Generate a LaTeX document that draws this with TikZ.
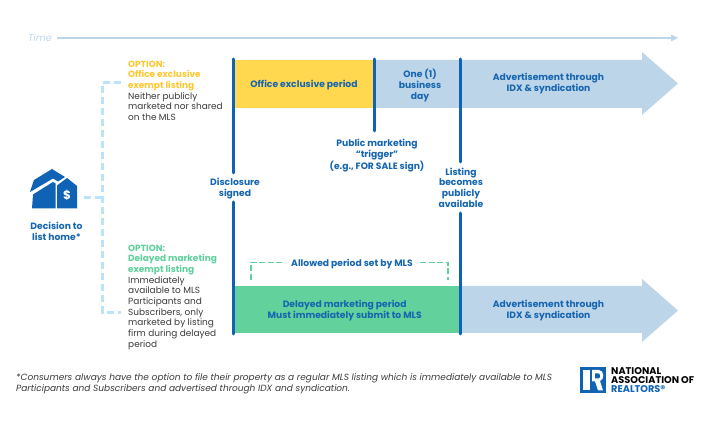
\documentclass[tikz,border=0pt]{standalone}
\usepackage{fontspec}
\setmainfont{Poppins}
\definecolor{navy}{HTML}{1565B0}
\definecolor{barblue}{HTML}{0F62B4}
\definecolor{pale}{HTML}{BDD5E9}
\definecolor{dashblue}{HTML}{BBE3FF}
\definecolor{gold}{HTML}{FFD84F}
\definecolor{goldtxt}{HTML}{FFC62E}
\definecolor{mint}{HTML}{62D19C}
\definecolor{minttxt}{HTML}{5DD09B}
\definecolor{ink}{HTML}{3A3A3A}
\tikzset{
  lbl/.style={font=\fontsize{9.2}{10.7}\selectfont\bfseries, text=navy, align=center, inner sep=0pt},
  side/.style={font=\fontsize{8.95}{10.7}\selectfont, text=ink, align=left, anchor=north west, inner sep=0pt},
  bar/.style={draw=barblue, line width=3pt, line cap=round},
  paleshape/.style={fill=pale, draw=none},
  branch/.style={draw=dashblue, line width=3pt, dash pattern=on 7pt off 4pt},
  bracket/.style={draw=mint, line width=1.3pt, dash pattern=on 6pt off 2.5pt},
}
\begin{document}
\begin{tikzpicture}[x=1pt,y=-1pt]
\useasboundingbox (0,0) rectangle (705,430);
% time axis
\node[font=\fontsize{9.7}{10}\selectfont\itshape, text=pale, anchor=west, inner sep=0pt] (time) at (28,38) {Time};
\coordinate (timeend) at (678,38);
\draw[draw=pale, line width=2pt] (57,38) -- (671,38);
\fill[pale] (671,34.5) -- (timeend) -- (671,41.5) -- cycle;
% top band
\fill[paleshape] (374,60) -- (642,60) -- (642,52) -- (678,83.5) -- (642,115) -- (642,108) -- (374,108) -- cycle;
\fill[gold] (235,60) rectangle (374,108);
% bottom band
\fill[paleshape] (460,286) -- (642,286) -- (642,279) -- (678,310.5) -- (642,342) -- (642,333) -- (460,333) -- cycle;
\fill[mint] (234,286) rectangle (460,333);
% labels
\node[lbl] (office) at (304,85) {Office exclusive period};
\node[lbl] (oneday) at (420,85.5) {One (1)\\business\\day};
\node[lbl] (adv1) at (548.5,83.5) {Advertisement through\\IDX \& syndication};
\node[lbl] (adv2) at (548.5,310.5) {Advertisement through\\IDX \& syndication};
\node[lbl] (delayed) at (344.7,310.5) {Delayed marketing period\\Must immediately submit to MLS};
\node[lbl] (trigger) at (377,155.5) {Public marketing\\“trigger”\\(e.g., FOR SALE sign)};
\node[lbl] (disc) at (235,188.5) {Disclosure\\signed};
\node[lbl] (public) at (461,187.5) {Listing\\becomes\\publicly\\available};
\node[lbl] (allowed) at (352,264) {Allowed period set by MLS};
\node[lbl] (decision) at (56.5,231.5) {Decision to\\list home*};
% bars
\draw[bar] (233.5,59) -- (233.5,173);
\draw[bar] (233.5,202) -- (233.5,334);
\draw[bar] (374,59) -- (374,131);
\draw[bar] (460.5,59) -- (460.5,162);
\draw[bar] (460.5,213) -- (460.5,334);
% green bracket
\draw[bracket] (251,280) -- (251,262.5) -- (283,262.5);
\draw[bracket] (420,262.5) -- (448,262.5) -- (448,280);
% branch
\draw[branch] (84,198) -- (102.5,198);
\draw[branch] (121,83) -- (102.5,83) -- (102.5,313) -- (121,313);
% option text
\node[side] (opt1) at (128,60.5) {\textcolor{goldtxt}{\bfseries OPTION:}\\\textcolor{goldtxt}{\bfseries Office exclusive}\\\textcolor{goldtxt}{\bfseries exempt listing}\\Neither publicly\\marketed nor shared\\on the MLS};
\node[side] (opt2) at (128,244.5) {\textcolor{minttxt}{\bfseries OPTION:}\\\textcolor{minttxt}{\bfseries Delayed marketing}\\\textcolor{minttxt}{\bfseries exempt listing}\\Immediately\\available to MLS\\Participants and\\Subscribers, only\\marketed by listing\\firm during delayed\\period};
% house icon
\fill[barblue] (30,192) -- (34,180) -- (52,169) -- (65,177) -- (58,181.5) -- (53,178.5) -- cycle;
\fill[barblue] (33,194.5) -- (53,182) -- (55.5,183.5) -- (55.5,208.5) -- (32,208.5) -- cycle;
\fill[barblue] (57,185.5) -- (67,178) -- (77,186) -- (77,208.5) -- (57,208.5) -- cycle;
\node[font=\fontsize{12}{12}\selectfont\bfseries, text=white, inner sep=0pt] (dollar) at (67,195) {\$};
% footnote
\node[font=\fontsize{9}{11}\selectfont\itshape, text=ink, anchor=north west, align=left, inner sep=0pt] (foot) at (16,373.5) {*Consumers always have the option to file their property as a regular MLS listing which is immediately available to MLS\\Participants and Subscribers and advertised through IDX and syndication.};
% logo
\fill[barblue] (580,367) rectangle (606,393.5);
\fill[white] (583,370) rectangle (590,390.5);
\fill[white] (592,370) -- (599,370) .. controls (604.5,370) and (604.5,380) .. (600,381) -- (603,390.5) -- (598,390.5) -- (595,381.5) -- (592,381.5) -- cycle;
\fill[barblue] (595,373.5) -- (598.5,373.5) .. controls (600.5,373.5) and (600.5,378.5) .. (598.5,378.5) -- (595,378.5) -- cycle;
\node[font=\fontsize{9.75}{9.3}\selectfont\bfseries, text=black, anchor=north west, align=left, inner sep=0pt] (nar) at (611,367) {NATIONAL\\ASSOCIATION OF\\\textcolor{barblue}{REALTORS®}};
\end{tikzpicture}
\end{document}
